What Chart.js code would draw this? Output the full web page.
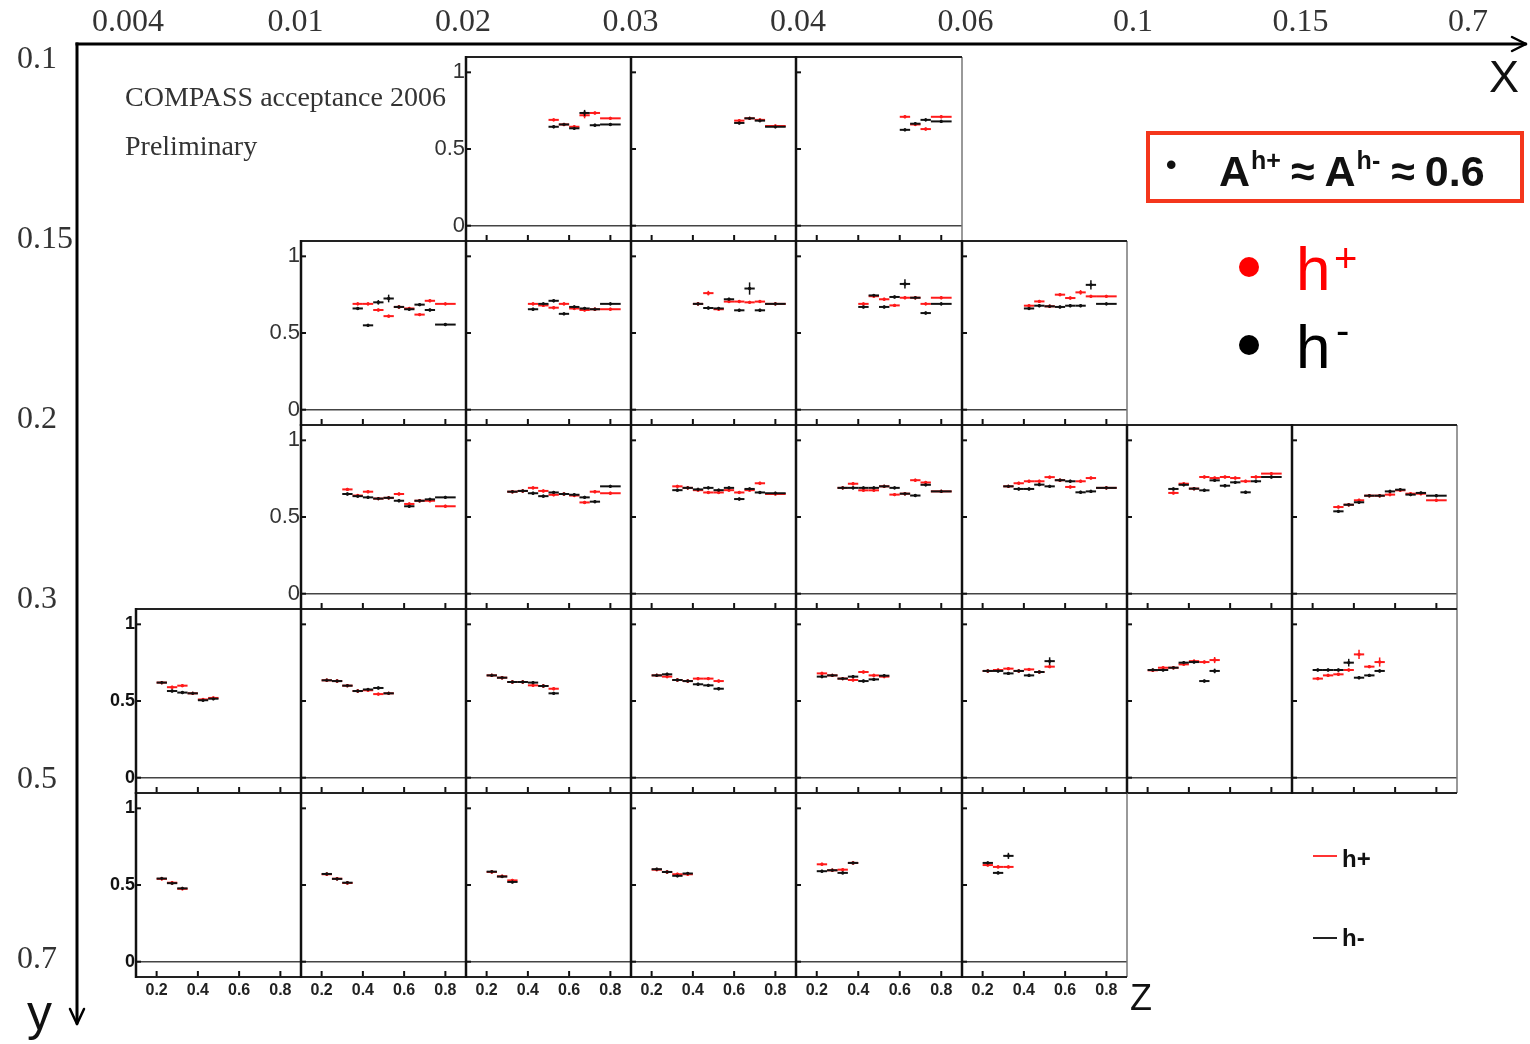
<!DOCTYPE html>
<html><head><meta charset="utf-8">
<script src="https://cdn.jsdelivr.net/npm/chart.js@4.4.0/dist/chart.umd.min.js"></script>
<style>
html,body{margin:0;padding:0;background:#fff;width:1530px;height:1044px;overflow:hidden;position:relative;font-family:"Liberation Sans",Arial,sans-serif;}
canvas{position:absolute;}
.t{position:absolute;white-space:nowrap;line-height:1;}
</style></head><body>
<canvas id="bg" width="1530" height="1044" style="left:0;top:0"></canvas>

<div class="t" style="left:125px;top:83px;font-family:'Liberation Serif',serif;font-size:28px;color:#333;">COMPASS acceptance 2006</div>
<div class="t" style="left:125px;top:132px;font-family:'Liberation Serif',serif;font-size:28px;color:#333;">Preliminary</div>

<div class="t" style="left:1489px;top:54px;font-size:45px;color:#111;">X</div>
<div class="t" style="left:27px;top:988px;font-size:50px;color:#111;">y</div>
<div class="t" style="left:1130px;top:980px;font-size:36px;color:#111;">Z</div>

<div style="position:absolute;left:1146px;top:131px;width:378px;height:72px;box-sizing:border-box;border:4px solid #f4361c;"></div>
<div class="t" style="left:1166px;top:150px;font-size:30px;font-weight:bold;color:#111;">•</div>
<div class="t" style="left:1219px;top:150px;font-size:43px;font-weight:bold;color:#111;">A<span style="font-size:25px;position:relative;top:-17px;margin-left:1px;">h+</span><span style="margin:0 10px 0 10px;">≈</span>A<span style="font-size:25px;position:relative;top:-17px;margin-left:1px;">h-</span><span style="margin:0 10px 0 11px;">≈</span>0.6</div>

<div style="position:absolute;left:1239px;top:257px;width:20px;height:20px;border-radius:50%;background:#f00;"></div>
<div class="t" style="left:1296px;top:238px;font-size:62px;color:#f00;">h</div>
<div class="t" style="left:1334px;top:238px;font-size:40px;color:#f00;">+</div>
<div style="position:absolute;left:1239px;top:335px;width:20px;height:20px;border-radius:50%;background:#000;"></div>
<div class="t" style="left:1296px;top:316px;font-size:62px;color:#000;">h</div>
<div class="t" style="left:1336px;top:310px;font-size:40px;color:#000;">-</div>

<div style="position:absolute;left:1313px;top:855px;width:24px;height:2px;background:#f33;"></div>
<div class="t" style="left:1342px;top:847px;font-size:24px;font-weight:bold;color:#111;">h+</div>
<div style="position:absolute;left:1313px;top:937px;width:24px;height:2px;background:#222;"></div>
<div class="t" style="left:1342px;top:926px;font-size:24px;font-weight:bold;color:#111;">h-</div>

<script>
// ---------------- DATA ----------------
const xEdgeLabels = ['0.004','0.01','0.02','0.03','0.04','0.06','0.1','0.15','0.7'];
const yEdgeLabels = ['0.1','0.15','0.2','0.3','0.5','0.7'];
const zTicks = [0.2, 0.4, 0.6, 0.8];
const zTickLabels = ['0.2','0.4','0.6','0.8'];
const aTicks = [0, 0.5, 1];
const aTickLabels = ['0','0.5','1'];

// z bins (edges and centres)
const binLo  = [0.20,0.25,0.30,0.35,0.40,0.45,0.50,0.55,0.60,0.65,0.70,0.75];
const binHi  = [0.25,0.30,0.35,0.40,0.45,0.50,0.55,0.60,0.65,0.70,0.75,0.85];
const binMid = [0.225,0.275,0.325,0.375,0.425,0.475,0.525,0.575,0.625,0.675,0.725,0.80];

// columns (x bins) occupied by panels in each y row
const colsRow1 = [2,3,4];
const colsRow2 = [1,2,3,4,5];
const colsRow3 = [1,2,3,4,5,6,7];
const colsRow4 = [0,1,2,3,4,5,6,7];
const colsRow5 = [0,1,2,3,4,5];

// first z bin of each panel
const firstRow1 = [6,8,8];
const firstRow2 = [3,4,4,4,4];
const firstRow3 = [2,2,2,2,2,2,2];
const firstRow4 = [0,0,0,0,0,0,0,0];
const firstRow5 = [0,0,0,0,0,0];

// acceptance h+ (hp) and h- (hm)
const hpRow1 = [
  [0.69,0.66,0.645,0.72,0.735,0.70],
  [0.685,0.70,0.69,0.65],
  [0.71,0.66,0.63,0.71]
];
const hmRow1 = [
  [0.645,0.66,0.635,0.735,0.655,0.66],
  [0.67,0.70,0.685,0.645],
  [0.625,0.665,0.69,0.68]
];
const hpRow2 = [
  [0.69,0.69,0.65,0.61,0.67,0.66,0.62,0.71,0.69],
  [0.69,0.68,0.665,0.69,0.66,0.65,0.655,0.655],
  [0.69,0.76,0.655,0.705,0.705,0.70,0.705,0.69],
  [0.69,0.74,0.72,0.68,0.73,0.73,0.69,0.73],
  [0.678,0.706,0.674,0.75,0.728,0.765,0.739,0.739]
];
const hmRow2 = [
  [0.66,0.55,0.70,0.725,0.67,0.655,0.685,0.65,0.555],
  [0.655,0.69,0.71,0.625,0.67,0.66,0.655,0.69],
  [0.69,0.663,0.66,0.72,0.648,0.79,0.648,0.69],
  [0.67,0.745,0.67,0.735,0.82,0.73,0.63,0.69],
  [0.66,0.678,0.674,0.67,0.678,0.678,0.814,0.69]
];
const hpRow3 = [
  [0.68,0.64,0.665,0.62,0.625,0.65,0.585,0.606,0.606,0.57],
  [0.665,0.67,0.69,0.67,0.645,0.65,0.64,0.595,0.665,0.655],
  [0.70,0.69,0.675,0.66,0.66,0.675,0.66,0.675,0.72,0.65],
  [0.69,0.717,0.674,0.674,0.70,0.646,0.652,0.74,0.725,0.667],
  [0.70,0.72,0.733,0.733,0.76,0.74,0.696,0.733,0.754,0.69],
  [0.657,0.717,0.685,0.761,0.754,0.761,0.754,0.733,0.761,0.783],
  [0.565,0.58,0.609,0.639,0.639,0.646,0.674,0.652,0.652,0.609]
];
const hmRow3 = [
  [0.65,0.636,0.628,0.62,0.625,0.606,0.57,0.606,0.615,0.628],
  [0.665,0.67,0.655,0.636,0.66,0.65,0.645,0.628,0.60,0.70],
  [0.675,0.69,0.68,0.69,0.675,0.69,0.617,0.683,0.66,0.655],
  [0.69,0.69,0.69,0.69,0.70,0.69,0.652,0.64,0.71,0.667],
  [0.70,0.683,0.683,0.711,0.70,0.74,0.733,0.661,0.667,0.69],
  [0.683,0.71,0.685,0.674,0.739,0.704,0.726,0.661,0.733,0.761],
  [0.537,0.58,0.596,0.639,0.639,0.667,0.678,0.646,0.657,0.639]
];
const hpRow4 = [
  [0.62,0.59,0.60,0.55,0.51,0.52],
  [0.635,0.63,0.60,0.565,0.57,0.545,0.55],
  [0.667,0.652,0.624,0.624,0.602,0.598,0.58],
  [0.667,0.659,0.637,0.63,0.646,0.646,0.63],
  [0.68,0.667,0.646,0.637,0.689,0.667,0.659],
  [0.696,0.702,0.711,0.696,0.706,0.689,0.724],
  [0.70,0.717,0.717,0.739,0.76,0.754,0.767],
  [0.646,0.667,0.674,0.702,0.804,0.724,0.754]
];
const hmRow4 = [
  [0.62,0.565,0.555,0.55,0.505,0.515],
  [0.635,0.63,0.60,0.565,0.575,0.585,0.55],
  [0.667,0.652,0.624,0.624,0.62,0.598,0.55],
  [0.667,0.674,0.637,0.63,0.609,0.602,0.58],
  [0.659,0.667,0.646,0.659,0.63,0.641,0.665],
  [0.696,0.696,0.68,0.696,0.667,0.689,0.76],
  [0.702,0.702,0.717,0.75,0.754,0.63,0.696],
  [0.702,0.702,0.702,0.75,0.652,0.667,0.696]
];
const hpRow5 = [
  [0.54,0.515,0.475],
  [0.57,0.541,0.513],
  [0.585,0.557,0.53],
  [0.60,0.585,0.57,0.57],
  [0.635,0.596,0.60,0.644],
  [0.63,0.618,0.618]
];
const hmRow5 = [
  [0.542,0.512,0.478],
  [0.572,0.54,0.515],
  [0.587,0.555,0.52],
  [0.603,0.585,0.56,0.575],
  [0.59,0.596,0.579,0.644],
  [0.644,0.579,0.69]
];

// statistical error: default and larger ones [row, panel, series, bin, error]
const defaultErr = 0.01;
const bigErrors = [
  [0,0,'hp',3,0.02],[0,0,'hm',3,0.02],
  [1,0,'hm',3,0.025],[1,0,'hm',2,0.015],
  [1,2,'hm',5,0.04],[1,2,'hp',1,0.015],
  [1,3,'hm',4,0.03],[1,4,'hm',6,0.03],[1,4,'hp',5,0.015],
  [3,5,'hm',6,0.025],[3,6,'hp',6,0.02],[3,6,'hm',6,0.015],
  [3,7,'hp',4,0.03],[3,7,'hm',3,0.025],[3,7,'hp',6,0.03],
  [4,5,'hm',2,0.02]
];

// ---------------- LAYOUT ----------------
const GRID_LEFT = 136, COL_W = 165.1, GRID_TOP = 57, ROW_H = 184;
const LM = 50, RM = 20, TM = 24, BM = 34;
const A_MIN = -0.1, A_MAX = 1.1, Z_MIN = 0.1, Z_MAX = 0.9;
const RED = '#ff1a1a', BLACK = '#111';

const rows = [
  {cols: colsRow1, first: firstRow1, hp: hpRow1, hm: hmRow1},
  {cols: colsRow2, first: firstRow2, hp: hpRow2, hm: hmRow2},
  {cols: colsRow3, first: firstRow3, hp: hpRow3, hm: hmRow3},
  {cols: colsRow4, first: firstRow4, hp: hpRow4, hm: hmRow4},
  {cols: colsRow5, first: firstRow5, hp: hpRow5, hm: hmRow5}
];

function colLeft(c){ return Math.round(GRID_LEFT + COL_W * c); }
function seg(ctx,x1,y1,x2,y2){ ctx.beginPath(); ctx.moveTo(x1,y1); ctx.lineTo(x2,y2); ctx.stroke(); }

function errFor(r,k,s,i){
  for (const e of bigErrors) if (e[0]===r && e[1]===k && e[2]===s && e[3]===i) return e[4];
  return defaultErr;
}

const framePlugin = {
  id: 'frame',
  beforeDatasetsDraw(chart){
    const {ctx, chartArea:a, scales:{x, y}} = chart;
    ctx.save();
    ctx.lineCap = 'butt';
    const y0 = y.getPixelForValue(0);
    ctx.strokeStyle = '#444'; ctx.lineWidth = 1.5;
    seg(ctx, a.left, y0, a.right, y0);
    ctx.strokeStyle = '#111'; ctx.lineWidth = 2;
    aTicks.forEach(v => { const py = y.getPixelForValue(v); seg(ctx, a.left, py, a.left + 5, py); });
    zTicks.forEach(v => { const px = x.getPixelForValue(v); seg(ctx, px, a.bottom, px, a.bottom - 6); });
    ctx.strokeStyle = '#777'; ctx.lineWidth = 1.5;
    seg(ctx, a.right, a.top, a.right, a.bottom);
    ctx.strokeStyle = '#222'; ctx.lineWidth = 2;
    seg(ctx, a.left, a.top, a.right, a.top);
    seg(ctx, a.left, a.bottom, a.right, a.bottom);
    ctx.strokeStyle = '#111'; ctx.lineWidth = 2.5;
    seg(ctx, a.left, a.top - 1, a.left, a.bottom + 1);
    ctx.restore();
  }
};

const errPlugin = {
  id: 'errbars',
  afterDatasetsDraw(chart){
    const {ctx, chartArea:a, scales:{x, y}} = chart;
    ctx.save();
    ctx.beginPath(); ctx.rect(a.left, a.top, a.right - a.left, a.bottom - a.top); ctx.clip();
    chart.data.datasets.forEach(ds => {
      ctx.strokeStyle = ds.borderColor;
      ds.data.forEach(p => {
        const px = x.getPixelForValue(p.x), py = y.getPixelForValue(p.y);
        ctx.lineWidth = 2;
        seg(ctx, x.getPixelForValue(p.xlo), py, x.getPixelForValue(p.xhi), py);
        ctx.lineWidth = 1.5;
        seg(ctx, px, y.getPixelForValue(p.y - p.e), px, y.getPixelForValue(p.y + p.e));
      });
    });
    ctx.restore();
  }
};

// ---------------- BACKGROUND AXES (x, y bins) ----------------
const AX_X = 77, AX_Y = 44;
const arrowPlugin = {
  id: 'arrows',
  afterDraw(chart){
    const ctx = chart.ctx;
    ctx.save();
    ctx.strokeStyle = '#000'; ctx.lineWidth = 3; ctx.lineCap = 'square';
    seg(ctx, AX_X, AX_Y, 1525, AX_Y);
    seg(ctx, AX_X, AX_Y, AX_X, 1022);
    ctx.lineWidth = 2.5; ctx.lineCap = 'round';
    seg(ctx, 1526, AX_Y, 1512, AX_Y - 7); seg(ctx, 1526, AX_Y, 1512, AX_Y + 7);
    seg(ctx, AX_X, 1024, AX_X - 7, 1009); seg(ctx, AX_X, 1024, AX_X + 7, 1009);
    ctx.restore();
  }
};

new Chart(document.getElementById('bg'), {
  type: 'scatter',
  data: {datasets: []},
  options: {
    responsive: false, animation: false, events: [],
    layout: {autoPadding: false, padding: {left: 17, top: 0, right: 62, bottom: 84}},
    plugins: {legend: {display: false}, tooltip: {enabled: false}},
    scales: {
      x: {type: 'linear', position: 'top', min: 0, max: xEdgeLabels.length - 1,
          grid: {display: false, drawTicks: false}, border: {display: false},
          afterFit(s){ s.height = 60; },
          afterBuildTicks(s){ s.ticks = xEdgeLabels.map((_, i) => ({value: i})); },
          ticks: {autoSkip: false, maxRotation: 0, padding: 18, color: '#333',
                  font: {family: '"Liberation Serif", serif', size: 32},
                  callback: (v, i) => xEdgeLabels[i]}},
      y: {type: 'linear', position: 'left', reverse: true, min: 0, max: yEdgeLabels.length - 1,
          grid: {display: false, drawTicks: false}, border: {display: false},
          afterFit(s){ s.width = 111; },
          afterBuildTicks(s){ s.ticks = yEdgeLabels.map((_, i) => ({value: i})); },
          ticks: {autoSkip: false, crossAlign: 'far', padding: 0, color: '#333',
                  font: {family: '"Liberation Serif", serif', size: 32},
                  callback: (v, i) => yEdgeLabels[i]}}
    }
  },
  plugins: [arrowPlugin]
});

// ---------------- PANELS ----------------
rows.forEach((row, r) => {
  row.cols.forEach((c, k) => {
    const left = colLeft(c), W = colLeft(c + 1) - left;
    const top = GRID_TOP + ROW_H * r;
    const cv = document.createElement('canvas');
    cv.width = LM + W + RM; cv.height = TM + ROW_H + BM;
    cv.style.left = (left - LM) + 'px'; cv.style.top = (top - TM) + 'px';
    document.body.appendChild(cv);
    const first = row.first[k];
    const mk = (vals, s) => vals.map((v, i) => ({
      x: binMid[first + i], y: v, xlo: binLo[first + i], xhi: binHi[first + i], e: errFor(r, k, s, i)
    }));
    const boldLabels = r >= 3;
    new Chart(cv, {
      type: 'scatter',
      data: {datasets: [
        {label: 'h+', data: mk(row.hp[k], 'hp'), borderColor: RED, backgroundColor: RED, pointRadius: 1.7, pointBorderWidth: 0},
        {label: 'h-', data: mk(row.hm[k], 'hm'), borderColor: BLACK, backgroundColor: BLACK, pointRadius: 1.7, pointBorderWidth: 0}
      ]},
      options: {
        responsive: false, animation: false, events: [],
        layout: {autoPadding: false, padding: {left: 0, top: TM, right: RM, bottom: 0}},
        plugins: {legend: {display: false}, tooltip: {enabled: false}},
        scales: {
          x: {type: 'linear', min: Z_MIN, max: Z_MAX,
              grid: {display: false, drawTicks: false}, border: {display: false},
              afterFit(s){ s.height = BM; },
              afterBuildTicks(s){ s.ticks = zTicks.map(v => ({value: v})); },
              ticks: {display: r === rows.length - 1, autoSkip: false, maxRotation: 0, padding: 4, color: '#222',
                      font: {family: '"Liberation Sans", sans-serif', size: 16, weight: 'bold'},
                      callback: (v, i) => zTickLabels[i]}},
          y: {type: 'linear', min: A_MIN, max: A_MAX,
              grid: {display: false, drawTicks: false}, border: {display: false},
              afterFit(s){ s.width = LM; },
              afterBuildTicks(s){ s.ticks = aTicks.map(v => ({value: v})); },
              ticks: {display: k === 0, autoSkip: false, padding: 1, color: boldLabels ? '#111' : '#333',
                      font: {family: '"Liberation Sans", sans-serif', size: boldLabels ? 18 : 22, weight: boldLabels ? 'bold' : 'normal'},
                      callback: (v, i) => aTickLabels[i]}}
        }
      },
      plugins: [framePlugin, errPlugin]
    });
  });
});
</script>
</body></html>
